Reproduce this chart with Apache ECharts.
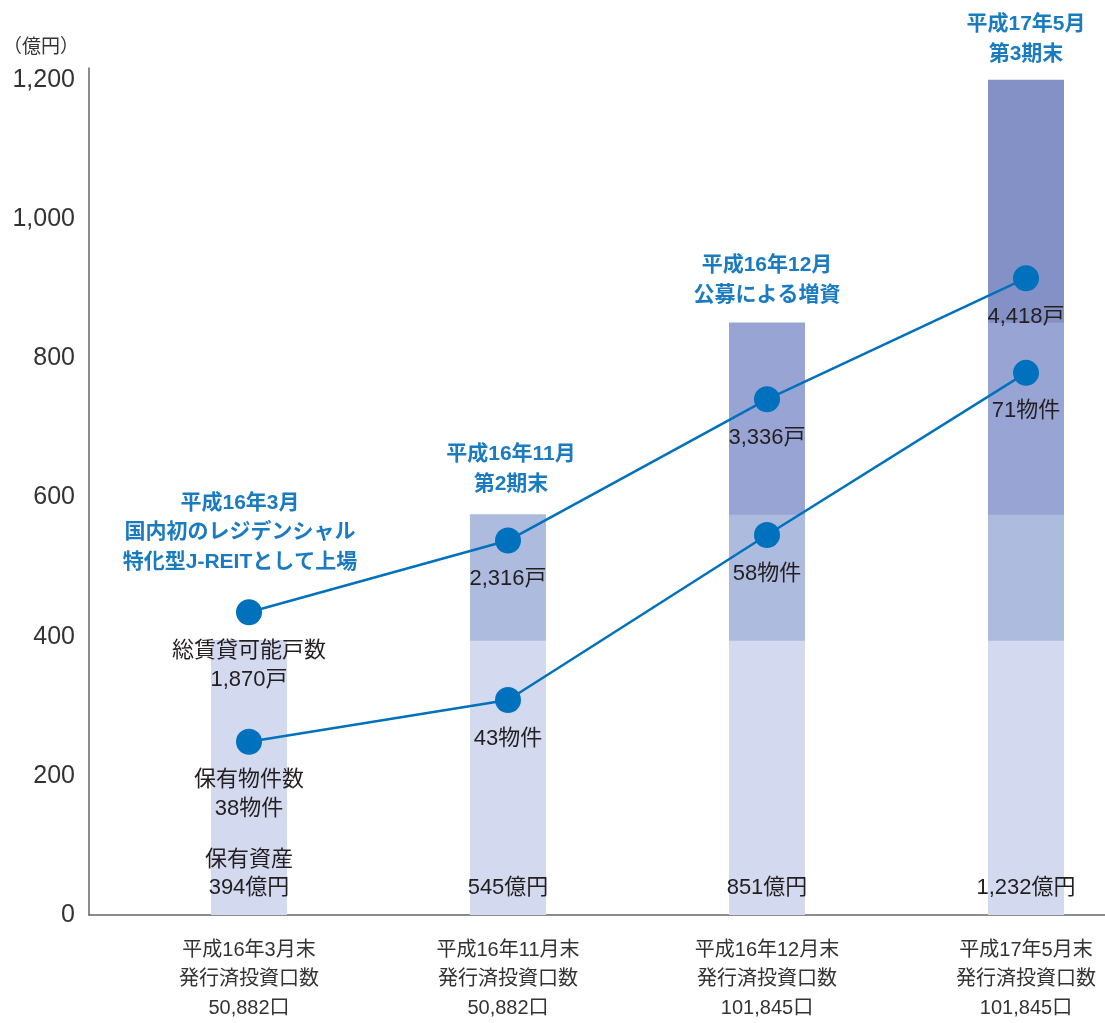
<!DOCTYPE html>
<html>
<head>
<meta charset="utf-8">
<script src="https://cdn.jsdelivr.net/npm/echarts@6/dist/echarts.min.js"></script>
<style>
  html, body { margin: 0; padding: 0; background: #fff; }
  #chart { width: 1105px; height: 1023px; }
</style>
</head>
<body>
<div id="chart"></div>
<script>
// カテゴリ（決算期）と発行済投資口数
const categories = ['平成16年3月末', '平成16年11月末', '平成16年12月末', '平成17年5月末']
const unitCounts = ['50,882口', '50,882口', '101,845口', '101,845口']
const catX = [0, 1, 2, 3]

// 保有資産（億円）: 棒の区分（下から順）
const assetBase = [394, 394, 394, 394]
const assetMid = [0, 181, 181, 181]
const assetUpper = [0, 0, 276, 276]
const assetTop = [0, 0, 0, 349]
const assetLabels = ['保有資産\n394億円', '545億円', '851億円', '1,232億円']

// 総賃貸可能戸数（折れ線、図上の高さ）
const unitsPlot = [435, 538, 741, 915]
const unitsLabels = ['総賃貸可能戸数\n1,870戸', '2,316戸', '3,336戸', '4,418戸']

// 保有物件数（折れ線、図上の高さ）
const propsPlot = [249, 309, 546, 779]
const propsLabels = ['保有物件数\n38物件', '43物件', '58物件', '71物件']

// 各期のトピック
const eventNotes = [
  '平成16年3月\n国内初のレジデンシャル\n特化型J-REITとして上場',
  '平成16年11月\n第2期末',
  '平成16年12月\n公募による増資',
  '平成17年5月\n第3期末'
]

const yTicks = { min: 0, max: 1217, interval: 200 }

const FONT = "'Liberation Sans', 'Noto Sans CJK JP', sans-serif"
const BLUE = '#0071bc'
const NOTE_BLUE = '#1b7bc0'
const TEXT = '#231f20'

// トピックの位置調整（1本目だけ折れ線の上に置く）
const noteStyle = [
  { distance: 64, offset: [-9, 0] },
  { distance: 16, offset: [3, 0] },
  { distance: 13, offset: [0, 0] },
  { distance: 11, offset: [0, 0] }
]

const chart = echarts.init(document.getElementById('chart'))

const segments = [
  { name: 'base', data: assetBase, color: '#d3d9ee' },
  { name: 'mid', data: assetMid, color: '#adbbdf' },
  { name: 'upper', data: assetUpper, color: '#98a4d4' },
  { name: 'top', data: assetTop, color: '#8491c6' }
]

// 区分ごとの累積値（上端）を作り、高い方から重ねて描く
let running = catX.map(() => 0)
const cumulative = segments.map(seg => {
  running = running.map((v, i) => v + seg.data[i])
  return running.slice()
})

const barSeries = segments.map((seg, si) => ({
  name: seg.name,
  type: 'bar',
  barWidth: 76,
  barGap: '-100%',
  z: 2 + (segments.length - si),
  itemStyle: { color: seg.color },
  data: catX.map((x, i) => {
    const item = { value: [x, cumulative[si][i]] }
    if (si === 0) {
      item.label = {
        show: true,
        position: 'insideBottom',
        distance: 13,
        formatter: assetLabels[i],
        color: TEXT,
        fontFamily: FONT,
        fontSize: 22,
        lineHeight: 28
      }
    }
    if (si === segments.length - 1) {
      item.label = {
        show: true,
        position: 'top',
        distance: noteStyle[i].distance,
        offset: noteStyle[i].offset,
        formatter: eventNotes[i],
        color: NOTE_BLUE,
        fontFamily: FONT,
        fontWeight: 'bold',
        fontSize: 21,
        lineHeight: 29.5,
        align: 'center'
      }
    }
    return item
  })
})).reverse()

const lineSeries = [
  { name: '総賃貸可能戸数', plot: unitsPlot, labels: unitsLabels },
  { name: '保有物件数', plot: propsPlot, labels: propsLabels }
].map(s => ({
  name: s.name,
  type: 'line',
  symbol: 'circle',
  symbolSize: 26,
  z: 10,
  itemStyle: { color: BLUE },
  lineStyle: { color: BLUE, width: 2.5 },
  data: catX.map((x, i) => ({
    value: [x, s.plot[i]],
    label: {
      show: true,
      position: 'bottom',
      distance: 11,
      formatter: s.labels[i],
      color: TEXT,
      fontFamily: FONT,
      fontSize: 22,
      lineHeight: 29,
      align: 'center'
    }
  }))
}))

// 1区間 = 259px になるように x の範囲を決める（棒の端を整数ピクセルに揃える）
const CAT_STEP = 259

const option = {
  animation: false,
  backgroundColor: '#fff',
  grid: { left: 89, right: 0, top: 68, bottom: 104 },
  xAxis: {
    type: 'value',
    min: -160 / CAT_STEP,
    max: 856 / CAT_STEP,
    axisLine: { show: true, onZero: false, lineStyle: { color: '#666', width: 1.5 } },
    axisTick: { show: false },
    splitLine: { show: false },
    axisLabel: {
      customValues: catX,
      margin: 21,
      formatter: v => {
        const i = Math.round(v)
        return categories[i] + '\n発行済投資口数\n' + unitCounts[i]
      },
      color: '#333',
      fontFamily: FONT,
      fontSize: 20,
      lineHeight: 29
    }
  },
  yAxis: {
    type: 'value',
    min: yTicks.min,
    max: yTicks.max,
    interval: yTicks.interval,
    name: '（億円）',
    nameLocation: 'end',
    nameGap: 11,
    nameTextStyle: {
      color: '#333',
      fontFamily: FONT,
      fontSize: 19,
      align: 'right',
      padding: [0, 10, 0, 0]
    },
    axisLine: { show: true, onZero: false, lineStyle: { color: '#666', width: 1.5 } },
    axisTick: { show: false },
    splitLine: { show: false },
    axisLabel: {
      margin: 14,
      color: '#333',
      fontFamily: FONT,
      fontSize: 25,
      formatter: v => (v % 200 === 0 ? v.toLocaleString('en-US') : '')
    }
  },
  series: [...barSeries, ...lineSeries]
}

chart.setOption(option)
</script>
</body>
</html>
